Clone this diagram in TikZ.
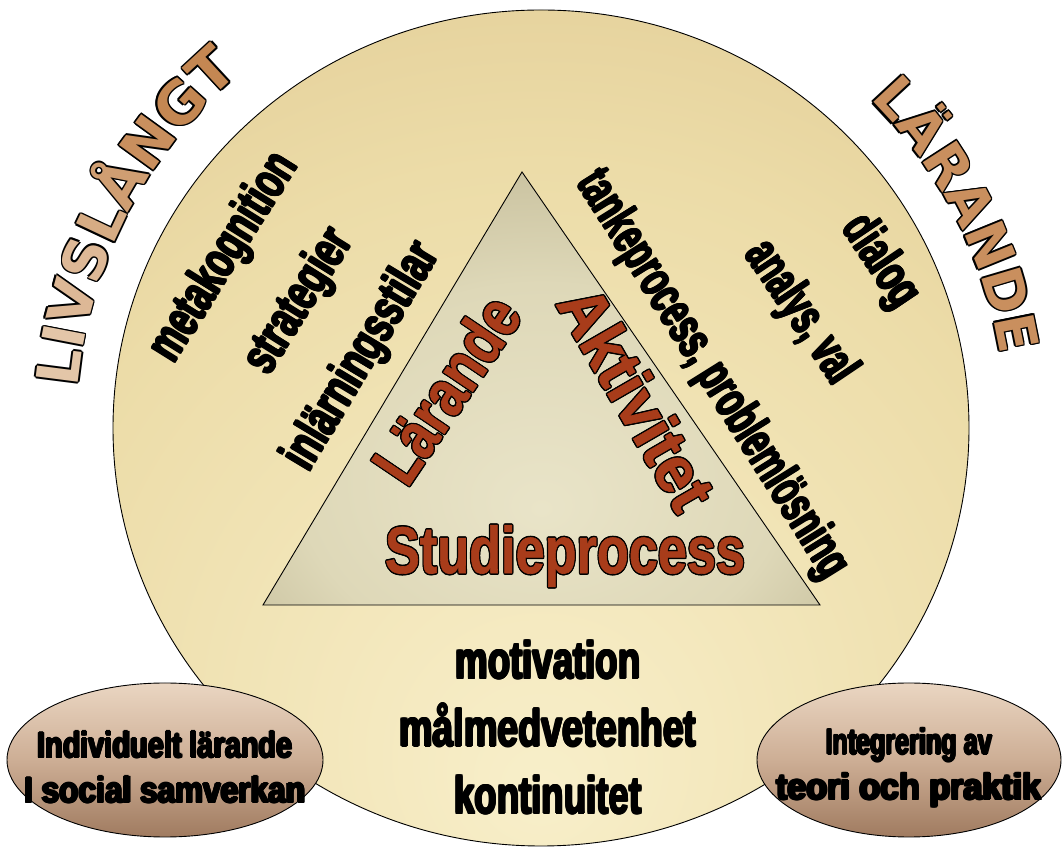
\documentclass[tikz,border=0pt]{standalone}
\usepackage{fontspec}
\usepackage{graphicx}
\usetikzlibrary{decorations.text}
\newfontfamily\blk{Liberation Sans Bold}
\newfontfamily\blkR[FakeBold=1]{Liberation Sans Bold}
\newfontfamily\arcN{DejaVu Sans Bold}
\definecolor{redtxt}{HTML}{A83C1A}
\definecolor{cA}{HTML}{E3C6A8}
\definecolor{cB}{HTML}{DDB896}
\definecolor{cC}{HTML}{D6AC84}
\definecolor{cD}{HTML}{CF9E72}
\definecolor{cE}{HTML}{C98F5E}
\definecolor{cF}{HTML}{C48752}
\definecolor{ovalTop}{HTML}{EAD6C2}
\definecolor{ovalMid}{HTML}{CDAE95}
\definecolor{ovalBot}{HTML}{A07B60}
\pgfdeclareradialshading{bigsh}{\pgfpoint{0bp}{-22bp}}{color(0bp)=(rgb,255:red,248;green,239;blue,202); color(30bp)=(rgb,255:red,236;green,220;blue,168); color(55bp)=(rgb,255:red,218;green,192;blue,136); color(85bp)=(rgb,255:red,196;green,162;blue,100)}
\pgfdeclareradialshading{trish}{\pgfpoint{0bp}{-14bp}}{color(0bp)=(rgb,255:red,233;green,228;blue,200); color(22bp)=(rgb,255:red,222;green,216;blue,184); color(45bp)=(rgb,255:red,182;green,173;blue,136); color(75bp)=(rgb,255:red,140;green,131;blue,98)}
% thickening copies for heavy black text
\newcommand\thk[1]{\rlap{\kern1.4pt#1}\rlap{\kern-1.4pt#1}\rlap{\raisebox{0.9pt}{#1}}\rlap{\raisebox{-0.9pt}{#1}}\rlap{\kern1pt\raisebox{0.7pt}{#1}}\rlap{\kern-1pt\raisebox{-0.7pt}{#1}}\rlap{\kern1pt\raisebox{-0.7pt}{#1}}\rlap{\kern-1pt\raisebox{0.7pt}{#1}}#1}
\newcommand\bt[3]{\resizebox{#1pt}{\height}{\fontsize{#2}{#2}\blk\thk{#3}}}
% outline copies for coloured text
\newcommand\olcopies[1]{\rlap{\kern1.5pt#1}\rlap{\kern-1.5pt#1}\rlap{\raisebox{1.5pt}{#1}}\rlap{\raisebox{-1.5pt}{#1}}\rlap{\kern1.1pt\raisebox{1.1pt}{#1}}\rlap{\kern-1.1pt\raisebox{1.1pt}{#1}}\rlap{\kern1.1pt\raisebox{-1.1pt}{#1}}\rlap{\kern-1.1pt\raisebox{-1.1pt}{#1}}}
\newcommand\rt[3]{\resizebox{#1pt}{\height}{\fontsize{#2}{#2}\blkR\olcopies{\color{black}#3}\color{redtxt}#3}}
\newcommand\af{\fontsize{58}{58}\arcN}
\newcommand\ag{\fontsize{55}{55}\arcN}
\tikzset{
  lbl/.style={inner sep=0pt, outer sep=0pt, text=black},
  oval/.style={draw=black, line width=0.9pt, top color=ovalTop, bottom color=ovalBot, middle color=ovalMid}
}
\begin{document}
\begin{tikzpicture}[x=1pt,y=1pt]
\useasboundingbox (0,0) rectangle (1062,853);
\fill[white] (0,0) rectangle (1062,853);
% big circle
\shade[shading=bigsh, draw=black, line width=0.9pt] (541,425) ellipse [x radius=428, y radius=418];
% triangle
\shade[shading=trish, draw=black, line width=0.9pt] (522,681) -- (263,248) -- (820,248) -- cycle;
% small ovals
\path[oval] (165,93) ellipse [x radius=158, y radius=77];
\path[oval] (909,93) ellipse [x radius=152, y radius=77];
% arc texts: black outline copies, then colour pass
\foreach \dx/\dy in {1.6/0,-1.6/0,0/1.6,0/-1.6,1.1/1.1,-1.1/1.1,1.1/-1.1,-1.1/-1.1}{
\path[shift={(\dx,\dy)},decorate,decoration={text along path, text align=left,
  text={|\af\color{black}|LIVSLÅNGT}}]
  (541,425) ++(175:465) arc[start angle=175,end angle=118,radius=465];
\path[shift={(\dx,\dy)},decorate,decoration={text along path, text align=left,
  text={|\ag\color{black}|LÄRANDE}}]
  (541,425) ++(45:465) arc[start angle=45,end angle=-10,radius=465];
}
\path[decorate,decoration={text along path, text align=left,
  text={|\af\color{cA}|L|\af\color{cA}|I|\af\color{cB}|V|\af\color{cB}|S|\af\color{cC}|L|\af\color{cD}|Å|\af\color{cE}|N|\af\color{cF}|G|\af\color{cF}|T}}]
  (541,425) ++(175:465) arc[start angle=175,end angle=118,radius=465];
\path[decorate,decoration={text along path, text align=left,
  text={|\ag\color{cE}|LÄRANDE}}]
  (541,425) ++(45:465) arc[start angle=45,end angle=-10,radius=465];
% black rotated texts
\node[lbl, rotate=58] (meta) at (225,595) {\bt{235}{52}{metakognition}};
\node[lbl, rotate=58] (strat) at (300,551) {\bt{160}{52}{strategier}};
\node[lbl, rotate=59] (inl) at (363,496) {\bt{255}{52}{inlärningsstilar}};
\node[lbl, rotate=-58] (tanke) at (712,478) {\bt{470}{52}{tankeprocess, problemlösning}};
\node[lbl, rotate=-56] (analys) at (800,540) {\bt{160}{52}{analys, val}};
\node[lbl, rotate=-56] (dialog) at (880,591) {\bt{100}{52}{dialog}};
% red texts
\node[lbl, rotate=56] (lar) at (446,464) {\rt{209}{66}{Lärande}};
\node[lbl, rotate=-60] (akt) at (637,455) {\rt{245}{66}{Aktivitet}};
\node[lbl] (stud) at (565,297) {\rt{360}{66}{Studieprocess}};
% bottom texts
\node[lbl] (motiv) at (548,193) {\bt{185}{52}{motivation}};
\node[lbl] (malm) at (548,128) {\bt{297}{52}{målmedvetenhet}};
\node[lbl] (kont) at (548,58) {\bt{187}{52}{kontinuitet}};
\node[lbl] (ind1) at (165,108) {\bt{255}{36}{Individuelt lärande}};
\node[lbl] (ind2) at (165,63) {\bt{281}{36}{I social samverkan}};
\node[lbl] (int1) at (909,108) {\bt{166}{36}{Integrering av}};
\node[lbl] (int2) at (909,63) {\bt{265}{36}{teori och praktik}};
\end{tikzpicture}
\end{document}
